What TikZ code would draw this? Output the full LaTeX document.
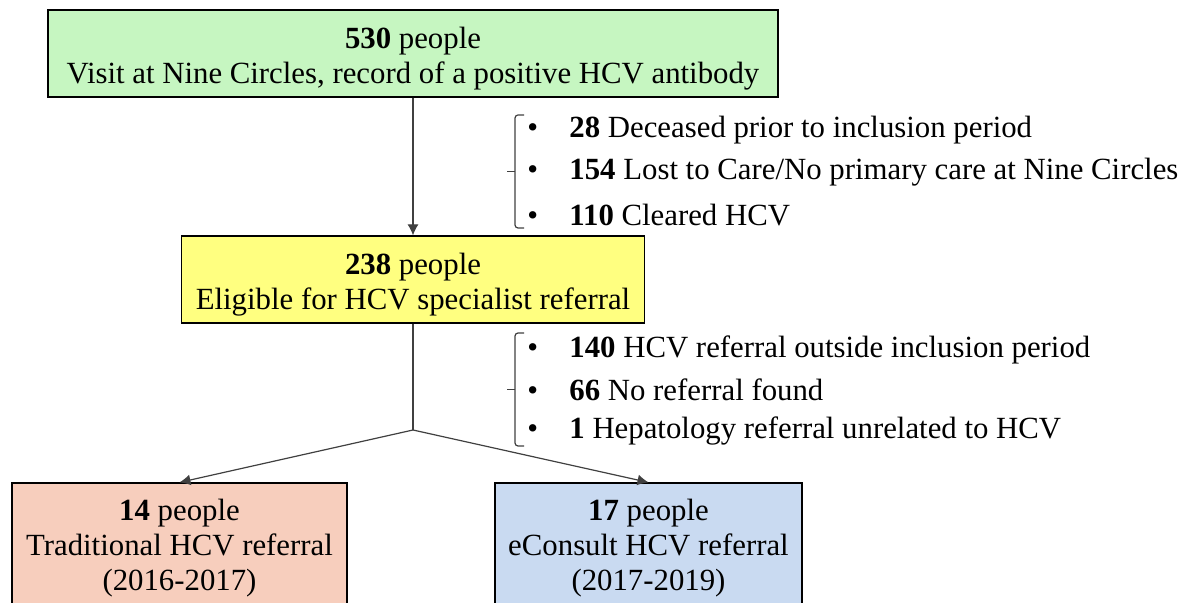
\documentclass[tikz,border=0pt]{standalone}
\usepackage{fontspec}
\setmainfont{Liberation Serif}
\usetikzlibrary{arrows.meta,positioning}
\definecolor{boxgreen}{HTML}{C6F6C1}
\definecolor{boxyellow}{HTML}{FFFF80}
\definecolor{boxpink}{HTML}{F7CEBD}
\definecolor{boxblue}{HTML}{C9DAF1}
\definecolor{linegray}{HTML}{404040}

\begin{document}
\begin{tikzpicture}[
  x=0.5pt,y=-0.5pt,>={Latex[length=5.5pt,width=5.5pt]},
  font=\fontsize{15.4}{17.5}\selectfont,
  bx/.style={draw=black,line width=0.6pt,align=center,inner sep=0pt},
  ar/.style={->,draw=linegray,line width=0.6pt},
  itm/.style={anchor=west,inner sep=0pt},
  brc/.style={draw=linegray,line width=0.6pt,rounded corners=1.5pt}
]
\useasboundingbox (0,0) rectangle (1188,603);
\clip (0,0) rectangle (1188,603);
% boxes
\node[bx,fill=boxgreen,minimum width=365pt,minimum height=43.5pt] (start) at (413,53.5) {\rule{0pt}{15.5pt}\textbf{530} people\\Visit at Nine Circles, record of a positive HCV antibody};
\node[bx,fill=boxyellow,minimum width=231.5pt,minimum height=43.5pt] (elig) at (413,279.5) {\rule{0pt}{15.5pt}\textbf{238} people\\Eligible for HCV specialist referral};
\node[bx,fill=boxpink,minimum width=167.5pt,minimum height=62.5pt] (trad) at (179.5,545.5) {\rule{0pt}{13.5pt}\textbf{14} people\\Traditional HCV referral\\(2016-2017)};
\node[bx,fill=boxblue,minimum width=153.5pt,minimum height=62.5pt] (econ) at (648.5,545.5) {\rule{0pt}{13.5pt}\textbf{17} people\\eConsult HCV referral\\(2017-2019)};
\coordinate (split) at (413,430);
% exclusions
\node[itm] (ex1) at (527,130) {\makebox[21pt][l]{\textbullet}\textbf{28} Deceased prior to inclusion period};
\node[itm] (ex2) at (527,172) {\makebox[21pt][l]{\textbullet}\textbf{154} Lost to Care/No primary care at Nine Circles};
\node[itm] (ex3) at (527,215) {\makebox[21pt][l]{\textbullet}\textbf{110} Cleared HCV};
\node[itm] (ex4) at (527,350) {\makebox[21pt][l]{\textbullet}\textbf{140} HCV referral outside inclusion period};
\node[itm] (ex5) at (527,390) {\makebox[21pt][l]{\textbullet}\textbf{66} No referral found};
\node[itm] (ex6) at (527,431) {\makebox[21pt][l]{\textbullet}\textbf{1} Hepatology referral unrelated to HCV};
\draw[brc] (524,115) -- (515,115) -- (515,228) -- (524,228);
\draw[draw=linegray,line width=0.6pt] (515,171.5) -- (507,171.5);
\draw[brc] (524,333) -- (515,333) -- (515,446) -- (524,446);
\draw[draw=linegray,line width=0.6pt] (515,389.5) -- (507,389.5);
% arrows
\draw[ar] (start) -- (elig);
\draw[linegray,line width=0.6pt] (elig) -- (split);
\draw[ar] (split) -- (trad.north);
\draw[ar] (split) -- (econ.north);
\end{tikzpicture}
\end{document}
